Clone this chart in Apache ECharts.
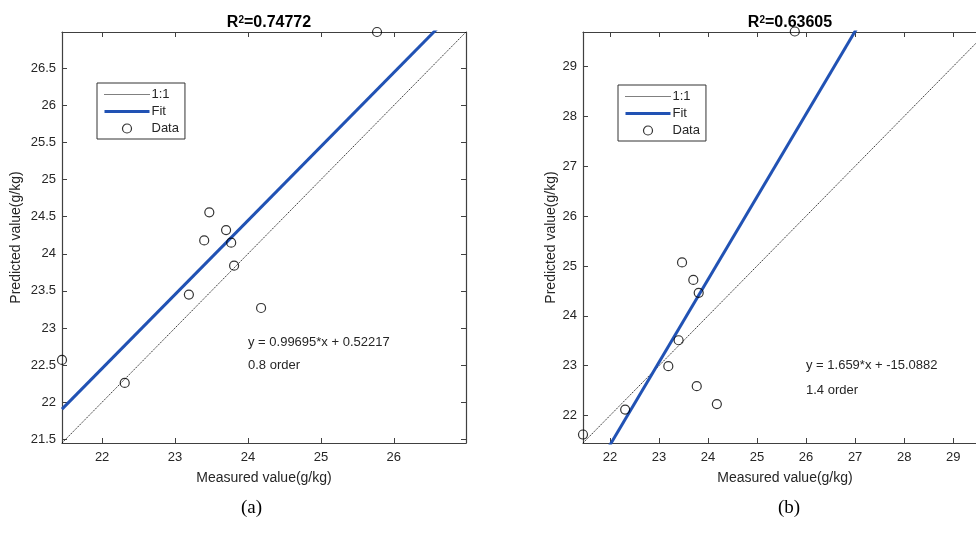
<!DOCTYPE html>
<html><head><meta charset="utf-8">
<script src="https://cdn.jsdelivr.net/npm/echarts@6/dist/echarts.min.js"></script>
<style>html,body{margin:0;padding:0;background:#fff}#c{width:976px;height:540px}</style>
</head><body><div id="c"></div>
<script>
// ---- data ----
var measured = [21.45, 22.31, 23.19, 23.40, 23.47, 23.70, 23.77, 23.81, 24.18, 25.77];
var predictedA = [22.57, 22.26, 23.45, 24.18, 24.56, 24.32, 24.15, 23.84, 23.27, 26.99];
var predictedB = [21.62, 22.12, 22.99, 23.51, 25.07, 24.72, 22.59, 24.46, 22.23, 29.70];
var limitsA = [21.45, 26.99];
var limitsB = [21.45, 29.69];
var fitA = [0.99695, 0.52217];
var fitB = [1.659, -15.0882];
var titlesR2 = ['0.74772', '0.63605'];
var eqTexts = ['y = 0.99695*x + 0.52217', 'y = 1.659*x + -15.0882'];
var orderTexts = ['0.8 order', '1.4 order'];
var xTicksA = [22, 23, 24, 25, 26];
var yTicksA = [21.5, 22, 22.5, 23, 23.5, 24, 24.5, 25, 25.5, 26, 26.5];
var xTicksB = [22, 23, 24, 25, 26, 27, 28, 29];
var yTicksB = [22, 23, 24, 25, 26, 27, 28, 29];
var legendNames = ['1:1', 'Fit', 'Data'];

var FONT = 'Liberation Sans, Arial, sans-serif';
var TXT = '#262626';
var BLUE = '#2152b4';

var chart = echarts.init(document.getElementById('c'));

var grids = [
  {left: 62, top: 32, width: 404, height: 411, outerBoundsMode: 'none', containLabel: false},
  {left: 583, top: 32, width: 404, height: 411, outerBoundsMode: 'none', containLabel: false}
];

function pairs(xs, ys){ return xs.map(function(x,i){return [x, ys[i]];}); }

var xAxes = [], yAxes = [], series = [], legends = [], titles = [];
var panels = [
  {lim: limitsA, yv: predictedA, fit: fitA, xt: xTicksA, yt: yTicksA},
  {lim: limitsB, yv: predictedB, fit: fitB, xt: xTicksB, yt: yTicksB}
];

panels.forEach(function(p, k){
  var g = grids[k];
  function mkX(pos, show){
    return {type:'value', gridIndex:k, position:pos, min:p.lim[0], max:p.lim[1],
      name: show ? 'Measured value(g/kg)' : '', nameLocation:'middle', nameGap:28,
      nameTextStyle:{fontFamily:FONT, fontSize:14, color:TXT},
      axisLine:{show:true, onZero:false, lineStyle:{color:'#404040', width:1.2}},
      axisTick:{show:true, inside:true, length:5, customValues:p.xt, lineStyle:{color:'#404040'}},
      axisLabel:{show:show, customValues:p.xt, margin:8, fontFamily:FONT, fontSize:13, color:TXT},
      splitLine:{show:false}};
  }
  function mkY(pos, show){
    return {type:'value', gridIndex:k, position:pos, min:p.lim[0], max:p.lim[1],
      name: show ? 'Predicted value(g/kg)' : '', nameLocation:'middle', nameGap: k===0 ? 39 : 25,
      nameTextStyle:{fontFamily:FONT, fontSize:14, color:TXT},
      axisLine:{show:true, onZero:false, lineStyle:{color:'#404040', width:1.2}},
      axisTick:{show:true, inside:true, length:5, customValues:p.yt, lineStyle:{color:'#404040'}},
      axisLabel:{show:show, customValues:p.yt, margin:6, fontFamily:FONT, fontSize:13, color:TXT,
        formatter:function(v){return String(v);}},
      splitLine:{show:false}};
  }
  xAxes.push(mkX('bottom', true)); xAxes.push(mkX('top', false));
  yAxes.push(mkY('left', true)); yAxes.push(mkY('right', false));
  var xi = 2*k, yi = 2*k;
  var lo = p.lim[0], hi = p.lim[1];
  series.push({type:'line', name:'1:1', xAxisIndex:xi, yAxisIndex:yi, symbol:'none', clip:true,
    data:[[lo, lo],[hi, hi]], lineStyle:{color:'#000', width:0.8, type:[1.5,1]}, itemStyle:{color:'#000'}, z:2});
  series.push({type:'line', name:'Fit', xAxisIndex:xi, yAxisIndex:yi, symbol:'none', clip:true,
    data:[[lo, p.fit[0]*lo + p.fit[1]],[hi, p.fit[0]*hi + p.fit[1]]],
    lineStyle:{color:BLUE, width:3}, itemStyle:{color:BLUE}, z:3});
  series.push({type:'scatter', name:'Data', xAxisIndex:xi, yAxisIndex:yi, clip:false,
    symbol:'circle', symbolSize:9, data:pairs(measured, p.yv),
    itemStyle:{color:'rgba(255,255,255,0)', borderColor:'#000', borderWidth:1.2}, z:4});
  var lgPos = k===0 ? {left:97, top:83} : {left:618, top:85};
  legends.push({seriesIndex:[3*k,3*k+1,3*k+2],
    data:[
      {name:legendNames[0], itemStyle:{opacity:0}, lineStyle:{width:1, color:'#000', type:[1,1]}},
      {name:legendNames[1], itemStyle:{opacity:0}, lineStyle:{width:3, color:BLUE}},
      {name:legendNames[2], itemStyle:{borderWidth:1.2, borderColor:'#000', color:'rgba(255,255,255,0)'}}
    ],
    left:lgPos.left, top:lgPos.top,
    orient:'vertical', itemWidth:45, itemHeight:9, itemGap:4,
    padding:[5,6,4,6], borderColor:'#333', borderWidth:1, backgroundColor:'#fff',
    textStyle:{fontFamily:FONT, fontSize:13, color:TXT, padding:[0,0,0,-3]},
    selectedMode:false});
  titles.push({text:'{r|R}{s|2}{r|=' + titlesR2[k] + '}', left: (g.left + 202), top: 10, textAlign:'center',
    textStyle:{rich:{r:{fontFamily:FONT, fontSize:16, fontWeight:'bold', color:'#000'},
                     s:{fontFamily:FONT, fontSize:10, fontWeight:'bold', color:'#000', verticalAlign:'top', lineHeight:8}}}});
});

var option = {
  animation:false,
  backgroundColor:'#fff',
  title: titles,
  grid: grids,
  xAxis: xAxes,
  yAxis: yAxes,
  legend: legends,
  series: series,
  graphic: [
    {type:'text', left:248, top:336, style:{text:eqTexts[0], font:'13px ' + FONT, fill:TXT}},
    {type:'text', left:248, top:359, style:{text:orderTexts[0], font:'13px ' + FONT, fill:TXT}},
    {type:'text', left:806, top:359, style:{text:eqTexts[1], font:'13px ' + FONT, fill:TXT}},
    {type:'text', left:806, top:384, style:{text:orderTexts[1], font:'13px ' + FONT, fill:TXT}},
    {type:'text', left:241, top:499, style:{text:'(a)', font:'19px "Liberation Serif", "Times New Roman", serif', fill:'#000'}},
    {type:'text', left:778, top:499, style:{text:'(b)', font:'19px "Liberation Serif", "Times New Roman", serif', fill:'#000'}}
  ]
};
chart.setOption(option);
</script>
</body></html>
